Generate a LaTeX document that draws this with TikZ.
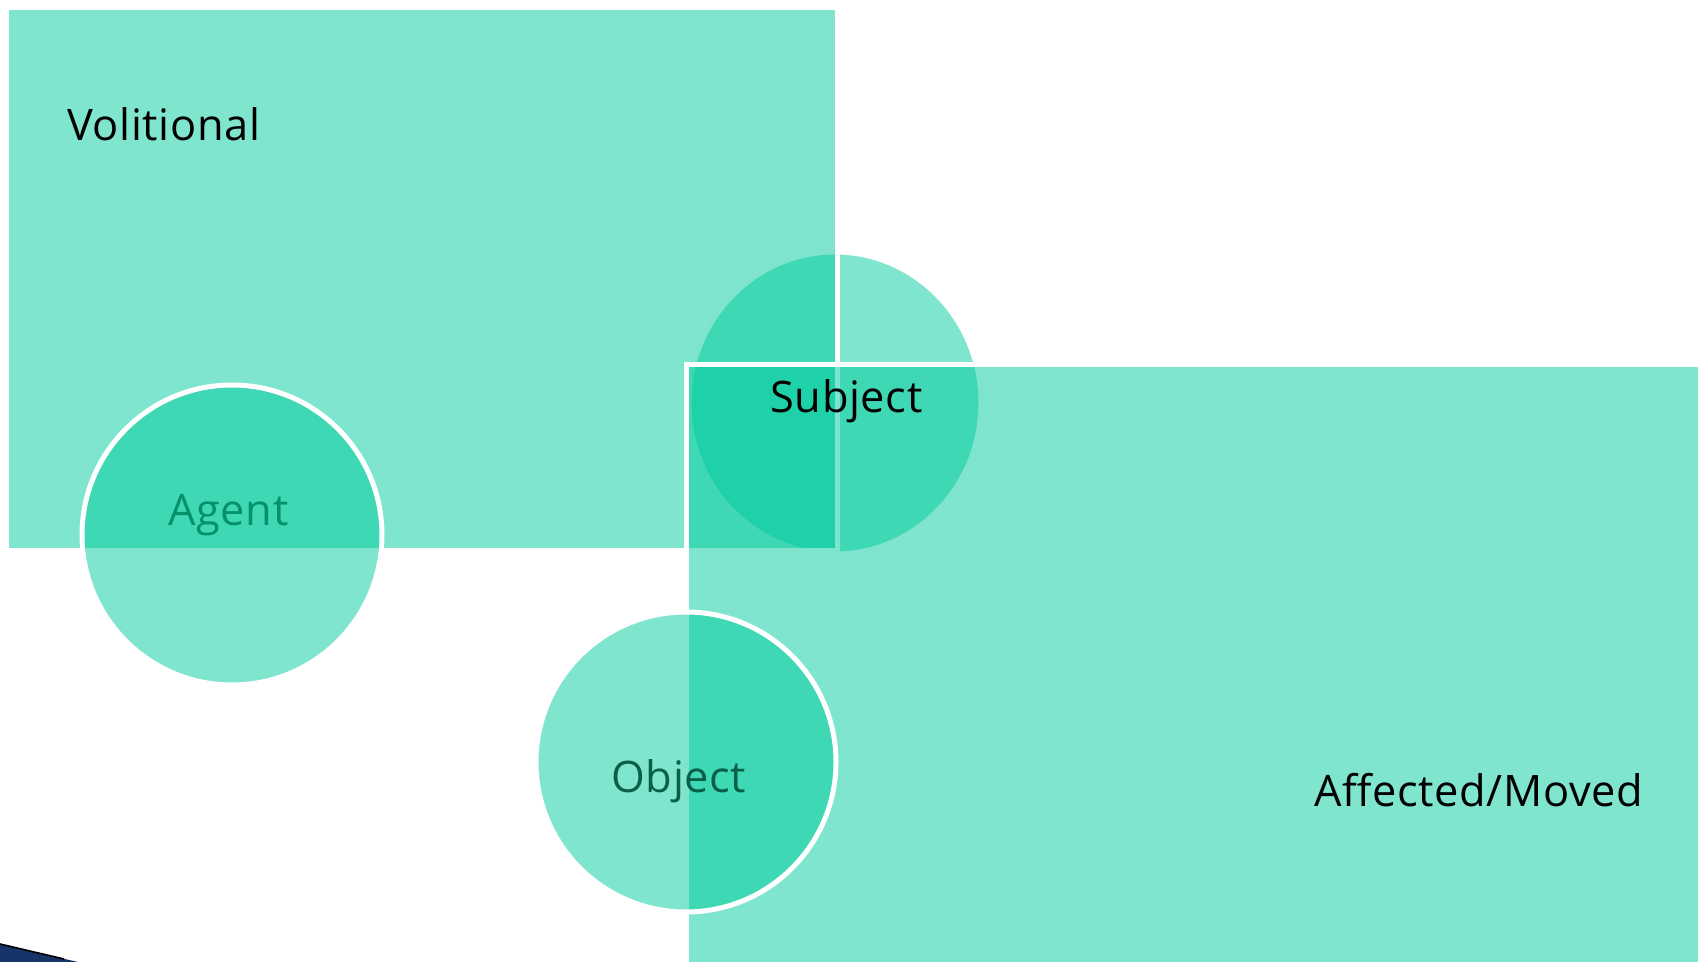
\documentclass[tikz,border=0pt]{standalone}
\usepackage{fontspec}
\setmainfont[LetterSpace=1.4]{Open Sans}
\usepackage{tikz}
\definecolor{roleteal}{RGB}{0,203,157}
\definecolor{agentink}{RGB}{5,145,105}
\definecolor{objectink}{RGB}{10,95,72}
\definecolor{slidenavy}{RGB}{22,52,104}
\tikzset{
  region/.style={fill=roleteal, fill opacity=0.5, draw=white, line width=2.5pt},
  lbl/.style={inner sep=0pt, anchor=base west, font=\fontsize{21.7}{26}\selectfont}
}

\begin{document}
\begin{tikzpicture}[x=0.5pt, y=-0.5pt]
  \useasboundingbox (0,0) rectangle (1698,962);
  \clip (0,0) rectangle (1698,962);
  \coordinate (subj) at (835,403);
  \coordinate (agent) at (232,535);
  \coordinate (obj) at (686,762);
  % shapes, back to front
  \fill[region] (subj) circle [x radius=146, y radius=151];
  \filldraw[region] (6.5,7.5) rectangle (837,551);
  \filldraw[region] (agent) circle [radius=150];
  \filldraw[region] (686,365) rectangle (1720,990);
  \filldraw[region] (obj) circle [radius=150];
  % labels
  \node[lbl] (volitional) at (67,141) {Volitional};
  \node[lbl, text=agentink] (agentlbl) at (168,526) {Agent};
  \node[lbl] (subjectlbl) at (770,413) {Subject};
  \node[lbl, text=objectink] (objectlbl) at (611,792) {Object};
  \node[lbl] (affected) at (1314,806) {Affected/Moved};
  % corner of the slide art
  \fill[slidenavy] (0,944) -- (78,962) -- (0,962) -- cycle;
  \draw[black, line width=0.8pt] (0,944) -- (64,959);
\end{tikzpicture}
\end{document}
